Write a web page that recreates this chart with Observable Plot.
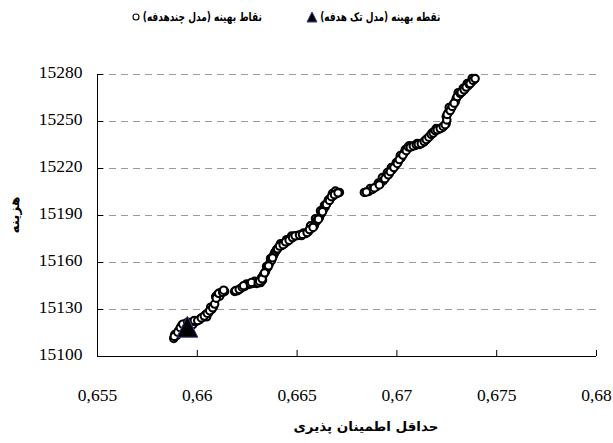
<!DOCTYPE html>
<html>
<head>
<meta charset="utf-8">
<script src="https://cdn.jsdelivr.net/npm/d3@7"></script>
<script src="https://cdn.jsdelivr.net/npm/@observablehq/plot@0.6"></script>
<style>
  body { margin: 0; background: #fff; }
  #wrap { position: relative; width: 613px; height: 443px; background: #fff; }
  #legend { position: relative; width: 613px; height: 35px; font-family: "DejaVu Sans", sans-serif; font-weight: bold; font-size: 12px; color: #000; }
  .ltext { position: absolute; top: 9px; white-space: nowrap; line-height: 16px; transform-origin: right center; }
  #chart svg { display: block; }
</style>
</head>
<body>
<div id="wrap">
  <div id="legend"></div>
  <div id="chart"></div>
</div>
<script>
// ---- data ----
const xTicks = [0.655, 0.66, 0.665, 0.67, 0.675, 0.68];
const yTicks = [15100, 15130, 15160, 15190, 15220, 15250, 15280];

const legendLabels = ["نقطه بهینه (مدل تک هدفه)", "نقاط بهینه (مدل چندهدفه)"];
const xTitle = "حداقل اطمینان پذیری";
const yTitle = "هزینه";

// single-objective optimum
const singleX = [0.6595];
const singleY = [15119];

// multi-objective optimum points
const multiX = [
  0.65882, 0.65887, 0.65897, 0.65907, 0.65922, 0.65932, 0.65942, 0.65967, 0.65977, 0.65992,
  0.66012, 0.66027, 0.66042, 0.66047, 0.66057, 0.66067, 0.66072, 0.66082, 0.66092, 0.66102,
  0.66112, 0.66117, 0.66137, 0.66187, 0.66202, 0.66217, 0.66237, 0.66247, 0.66257, 0.66277,
  0.66287, 0.66297, 0.66317, 0.66322, 0.66327, 0.66332, 0.66342, 0.66347, 0.66352, 0.66362,
  0.66367, 0.66372, 0.66382, 0.66387, 0.66392, 0.66407, 0.66417, 0.66422, 0.66437, 0.66447,
  0.66452, 0.66467, 0.66472, 0.66482, 0.66502, 0.66522, 0.66532, 0.66542, 0.66557, 0.66567,
  0.66572, 0.66587, 0.66592, 0.66597, 0.66612, 0.66617, 0.66622, 0.66632, 0.66637, 0.66642,
  0.66652, 0.66657, 0.66667, 0.66677, 0.66682, 0.66692, 0.66697, 0.66712,
  0.66837, 0.66857, 0.66867, 0.66877, 0.66897, 0.66907, 0.66917, 0.66927, 0.66932, 0.66947,
  0.66952, 0.66962, 0.66972, 0.66977, 0.66992, 0.66997, 0.67007, 0.67017, 0.67022, 0.67037,
  0.67042, 0.67052, 0.67062, 0.67072, 0.67092, 0.67102, 0.67112, 0.67132, 0.67142, 0.67152,
  0.67167, 0.67177, 0.67187, 0.67197, 0.67207, 0.67227, 0.67237, 0.67247, 0.67247, 0.67257,
  0.67262, 0.67272, 0.67282, 0.67292, 0.67297, 0.67307, 0.67312, 0.67327, 0.67332, 0.67342,
  0.67352, 0.67357, 0.67372, 0.67377, 0.67387,
  0.65885, 0.65902, 0.65915, 0.65927, 0.65952, 0.65960, 0.65985, 0.66002, 0.66020, 0.66035,
  0.66050, 0.66062, 0.66077, 0.66087, 0.66095, 0.66107, 0.66127, 0.66132,
  0.66192, 0.66210, 0.66225, 0.66232, 0.66265, 0.66272, 0.66305, 0.66312, 0.66325, 0.66337,
  0.66357, 0.66377, 0.66397, 0.66402, 0.66412, 0.66430, 0.66442, 0.66460, 0.66477, 0.66490,
  0.66512, 0.66527, 0.66550, 0.66562, 0.66580, 0.66602, 0.66607, 0.66627, 0.66647, 0.66662,
  0.66672, 0.66687, 0.66705,
  0.66847, 0.66887, 0.66912, 0.66940, 0.66957, 0.66967, 0.66985, 0.67002, 0.67012, 0.67030,
  0.67047, 0.67057, 0.67067, 0.67082, 0.67097, 0.67107, 0.67122, 0.67137, 0.67147, 0.67160,
  0.67172, 0.67182, 0.67192, 0.67202, 0.67217, 0.67232, 0.67242, 0.67250, 0.67252, 0.67267,
  0.67277, 0.67287, 0.67302, 0.67317, 0.67322, 0.67337, 0.67347, 0.67362, 0.67367, 0.67382,
  0.67392
];
const multiY = [
  15111.5, 15114.0, 15113.5, 15116.6, 15119.8, 15118.0, 15121.0, 15121.7, 15120.4, 15122.3,
  15123.6, 15125.0, 15126.8, 15125.3, 15128.0, 15131.5, 15130.0, 15132.0, 15138.3, 15139.6,
  15138.5, 15140.8, 15141.5, 15141.5, 15142.0, 15143.4, 15144.7, 15146.3, 15146.0, 15146.6,
  15148.0, 15146.6, 15147.2, 15150.4, 15148.8, 15152.3, 15154.2, 15157.5, 15156.8, 15159.3,
  15162.6, 15161.3, 15164.5, 15166.2, 15167.0, 15169.6, 15172.0, 15170.8, 15172.1, 15174.6,
  15173.4, 15175.3, 15176.9, 15176.6, 15177.2, 15177.2, 15178.9, 15178.5, 15179.8, 15183.4,
  15181.7, 15183.6, 15188.0, 15186.2, 15188.7, 15193.0, 15191.3, 15193.8, 15196.5, 15195.7,
  15198.3, 15200.0, 15200.8, 15204.0, 15202.7, 15205.6, 15204.0, 15204.7,
  15204.7, 15205.3, 15207.3, 15206.6, 15208.5, 15210.7, 15210.4, 15214.2, 15212.3, 15214.9,
  15217.4, 15216.8, 15220.6, 15219.3, 15221.9, 15223.8, 15224.4, 15228.3, 15227.0, 15230.2,
  15232.0, 15232.7, 15234.6, 15234.0, 15234.7, 15236.0, 15235.3, 15236.6, 15237.9, 15239.1,
  15241.0, 15242.8, 15243.6, 15245.5, 15244.9, 15246.1, 15247.4, 15248.7, 15253.2, 15255.7,
  15259.0, 15258.3, 15260.8, 15262.5, 15264.6, 15268.4, 15267.2, 15269.1, 15271.2, 15271.0,
  15274.2, 15272.9, 15274.9, 15277.5, 15276.8,
  15112.8, 15115.5, 15118.4, 15120.6, 15121.9, 15120.9, 15123.0, 15122.9, 15124.6, 15125.8,
  15127.6, 15129.2, 15131.1, 15133.5, 15137.2, 15140.3, 15141.0, 15142.3,
  15142.1, 15142.9, 15144.2, 15145.2, 15146.4, 15147.3, 15147.0, 15148.1, 15149.6, 15153.4,
  15157.9, 15163.0, 15168.3, 15168.7, 15170.5, 15171.4, 15173.2, 15174.2, 15175.9, 15177.0,
  15177.6, 15177.9, 15179.1, 15181.0, 15182.4, 15187.3, 15187.6, 15192.4, 15197.1, 15199.6,
  15202.0, 15203.3, 15204.5,
  15205.0, 15207.6, 15209.5, 15213.5, 15216.0, 15218.0, 15220.6, 15223.2, 15225.7, 15228.6,
  15231.4, 15233.8, 15233.6, 15234.4, 15235.2, 15235.6, 15235.9, 15237.2, 15238.5, 15240.0,
  15241.8, 15242.6, 15244.2, 15244.7, 15245.5, 15246.8, 15248.0, 15251.0, 15254.5, 15257.0,
  15259.6, 15261.7, 15265.9, 15268.0, 15268.6, 15270.2, 15272.0, 15273.9, 15274.2, 15276.2,
  15277.4
];

// ---- build tables ----
const multi = multiX.map((x, i) => ({x, y: multiY[i]}));
const single = singleX.map((x, i) => ({x, y: singleY[i]}));

// isoceles triangle centred on its bounding box (Excel style)
const triSymbol = {
  draw(ctx, size) {
    const r = Math.sqrt(size / Math.PI);
    ctx.moveTo(0, -r);
    ctx.lineTo(r, r);
    ctx.lineTo(-r, r);
    ctx.closePath();
  }
};

const fmt = d => String(d).replace(".", ",");
const serif = "Liberation Serif";

const chart = Plot.plot({
  width: 613,
  height: 408,
  marginLeft: 97,
  marginRight: 17,
  marginTop: 39,
  marginBottom: 87,
  x: {domain: [0.655, 0.68]},
  y: {domain: [15100, 15280]},
  style: {fontFamily: "'Liberation Serif', serif", fontSize: "17.5px", color: "#000", background: "#fff"},
  marks: [
    Plot.gridY(yTicks.slice(1), {stroke: "#9a9a9a", strokeOpacity: 1, strokeWidth: 1, strokeDasharray: "7,5"}),
    Plot.ruleX([0.655], {stroke: "#000", strokeWidth: 1}),
    Plot.ruleY([15100], {stroke: "#000", strokeWidth: 1}),
    Plot.axisX(xTicks, {tickSize: 6, dy: -6, tickFormat: () => "", label: null}),
    Plot.axisX(xTicks, {tickSize: 0, tickPadding: 32, tickFormat: fmt, label: null, fontFamily: serif, fontSize: 17.5}),
    Plot.axisY(yTicks, {tickSize: 6, dx: 6, tickFormat: () => "", label: null}),
    Plot.axisY(yTicks, {tickSize: 0, tickPadding: 15, dy: -2, tickFormat: d => String(d), label: null, fontFamily: serif, fontSize: 17.5}),
    Plot.dot(multi, {x: "x", y: "y", r: 3.7, fill: "#fff", stroke: "#000", strokeWidth: 2.1}),
    Plot.dot(single, {x: "x", y: "y", symbol: triSymbol, r: 10.5, fill: "#000", stroke: "#3c3c8c", strokeWidth: 1}),
    Plot.text([xTitle], {text: d => d, frameAnchor: "bottom", dy: 74, dx: 19, fontFamily: "DejaVu Sans", fontWeight: "bold", fontSize: 13}),
    Plot.text([yTitle], {text: d => d, frameAnchor: "left", rotate: -90, dx: -83, dy: 18, fontFamily: "DejaVu Sans", fontWeight: "bold", fontSize: 13})
  ]
});
document.getElementById("chart").appendChild(chart);

// fit the Persian titles to the width they take in the reference
d3.select(chart).selectAll("text").each(function() {
  const t = this.textContent;
  if (t === xTitle) { this.setAttribute("textLength", 145); this.setAttribute("lengthAdjust", "spacingAndGlyphs"); }
  if (t === yTitle) { this.setAttribute("textLength", 37); this.setAttribute("lengthAdjust", "spacingAndGlyphs"); }
});

// ---- legend (above the plot) ----
const legend = document.getElementById("legend");
function addLabel(text, rightEdge, targetWidth) {
  const el = document.createElement("div");
  el.className = "ltext"; el.dir = "rtl";
  el.style.right = (613 - rightEdge) + "px";
  el.textContent = text;
  legend.appendChild(el);
  const w = el.getBoundingClientRect().width;
  if (w > 0) el.style.transform = `scaleX(${targetWidth / w})`;
}
addLabel(legendLabels[0], 440, 120);
const tri = document.createElementNS("http://www.w3.org/2000/svg", "svg");
tri.setAttribute("width", 12); tri.setAttribute("height", 12);
tri.style.position = "absolute"; tri.style.left = "306px"; tri.style.top = "11px";
tri.innerHTML = '<polygon points="6,1 11,11 1,11" fill="#000" stroke="#3c3c8c" stroke-width="1"/>';
legend.appendChild(tri);

addLabel(legendLabels[1], 262, 119);
const circ = document.createElementNS("http://www.w3.org/2000/svg", "svg");
circ.setAttribute("width", 10); circ.setAttribute("height", 10);
circ.style.position = "absolute"; circ.style.left = "131px"; circ.style.top = "12px";
circ.innerHTML = '<circle cx="5" cy="5" r="3" fill="#fff" stroke="#000" stroke-width="1.1"/>';
legend.appendChild(circ);
</script>
</body>
</html>
